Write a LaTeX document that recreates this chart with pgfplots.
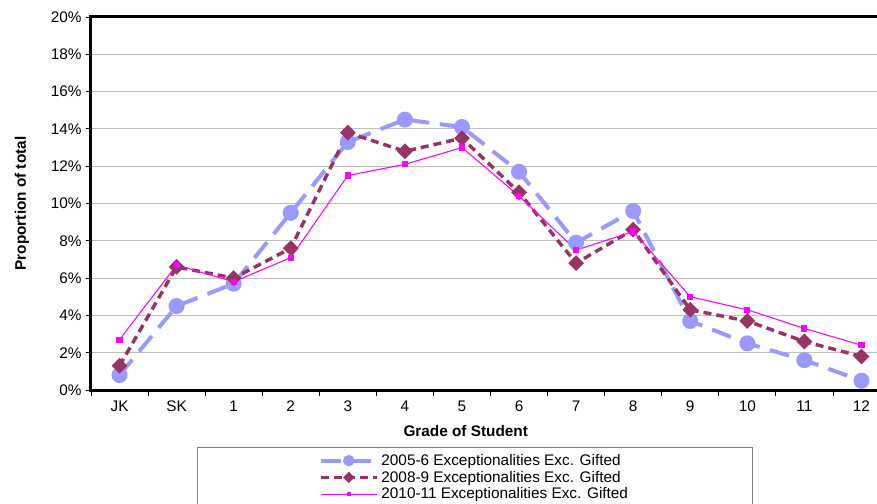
\documentclass[border=0pt]{standalone}
\usepackage{fontspec}
\setmainfont{Liberation Sans}
\usepackage{pgfplots}
\pgfplotsset{compat=1.18}
\definecolor{sA}{HTML}{9999FF}
\definecolor{sB}{HTML}{993366}
\definecolor{sC}{HTML}{FF00FF}
\definecolor{gridc}{HTML}{C0C0C0}
\begin{document}
\begin{tikzpicture}[font=\fontsize{11.5}{13.8}\selectfont]
\begin{axis}[
  scale only axis,
  width=599.25pt, height=279.75pt,
  xmin=-0.5, xmax=13.5,
  ymin=0, ymax=20,
  xtick={0,...,13},
  xticklabels={JK,SK,1,2,3,4,5,6,7,8,9,10,11,12},
  minor xtick={-0.5,0.5,...,13.5},
  ytick={0,2,...,20},
  yticklabel={\pgfmathprintnumber{\tick}\%},
  /pgf/number format/assume math mode=true,
  tick pos=left,
  tick align=outside,
  major x tick style={draw=none},
  minor tick length=4.5pt,
  major tick length=3.5pt,
  every tick/.style={black, line width=0.6pt},
  ymajorgrids,
  major grid style={gridc, line width=0.75pt},
  axis line style={line width=2.25pt},
  ticklabel style={font=\fontsize{11.5}{13.8}\selectfont},
  xticklabel style={yshift=-1pt},
  xlabel={\textbf{Grade of Student}},
  ylabel={\textbf{Proportion of total}},
  xlabel style={at={(axis description cs:0.469,-0.11)}, anchor=center},
  ylabel style={at={(axis description cs:-0.0864,0.5)}, anchor=center},
  legend style={
    at={(axis description cs:0.1327,-0.1528)}, anchor=north west,
    draw=gray, line width=0.6pt, inner xsep=91pt, inner ysep=3pt,
    row sep=-1.2pt, font=\fontsize{11.5}{13.8}\selectfont},
  legend cell align=left,
  legend image code/.code={\draw[mark repeat=2,mark phase=2,/tikz/every mark/.append style={scale=0.6}] plot coordinates {(0pt,0pt) (21pt,0pt) (42pt,0pt)};},
]
\addplot[sA, draw=sA, line width=3pt, dash pattern=on 15pt off 8pt, mark=*, mark size=4.5pt, mark options={solid, fill=sA}]
  coordinates {(0,0.8) (1,4.5) (2,5.7) (3,9.5) (4,13.3) (5,14.5) (6,14.1) (7,11.7) (8,7.9) (9,9.6) (10,3.7) (11,2.5) (12,1.6) (13,0.5)};
\addlegendentry{2005-6 Exceptionalities Exc. Gifted}
\addplot[sB, draw=sB, line width=2.6pt, dash pattern=on 6pt off 3.75pt, mark=square*, mark size=2.9pt, mark options={solid, rotate=45, fill=sB}]
  coordinates {(0,1.3) (1,6.6) (2,6.0) (3,7.6) (4,13.8) (5,12.8) (6,13.5) (7,10.6) (8,6.8) (9,8.6) (10,4.3) (11,3.7) (12,2.6) (13,1.8)};
\addlegendentry{2008-9 Exceptionalities Exc. Gifted}
\addplot[sC, draw=sC, line width=0.8pt, mark=square*, mark size=1.9pt, mark options={fill=sC}]
  coordinates {(0,2.7) (1,6.7) (2,5.8) (3,7.1) (4,11.5) (5,12.1) (6,13.0) (7,10.4) (8,7.5) (9,8.5) (10,5.0) (11,4.3) (12,3.3) (13,2.4)};
\addlegendentry{2010-11 Exceptionalities Exc. Gifted}
\end{axis}
\pgfresetboundingbox
\useasboundingbox (-68.25pt,-84.75pt) rectangle (589.5pt,292.5pt);
\end{tikzpicture}
\end{document}
